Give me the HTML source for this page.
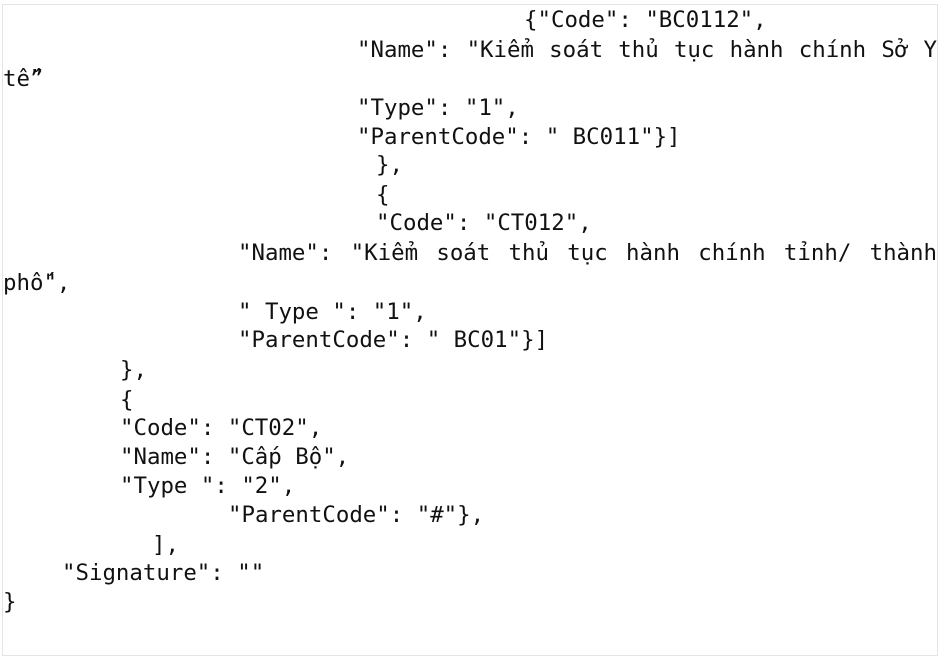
<!DOCTYPE html>
<html><head><meta charset="utf-8"><style>
html,body{margin:0;padding:0;background:#fff;}
body{width:939px;height:663px;position:relative;overflow:hidden;}
.frame{position:absolute;left:2px;top:4px;width:934px;height:650px;border:1px solid #e4e4e4;}
.l{position:absolute;font-family:"DejaVu Sans Mono","Liberation Mono",monospace;font-size:22.4px;line-height:29px;height:29px;color:#111;white-space:pre;}
.j{white-space:normal;text-align:justify;text-align-last:justify;}
</style></head><body>
<div class="frame"></div>
<div class="l" style="left:524px;top:6px">{"Code": "BC0112",</div>
<div class="l j" style="left:357px;top:36px;width:580px">"Name": "Kiểm soát thủ tục hành chính Sở Y</div>
<div class="l" style="left:3px;top:65px">tế”</div>
<div class="l" style="left:357px;top:94px">"Type": "1",</div>
<div class="l" style="left:357px;top:123px">"ParentCode": " BC011"}]</div>
<div class="l" style="left:376px;top:151px">},</div>
<div class="l" style="left:376px;top:181px">{</div>
<div class="l" style="left:376px;top:209px">"Code": "CT012",</div>
<div class="l j" style="left:238px;top:239px;width:699px">"Name": "Kiểm soát thủ tục hành chính tỉnh/ thành</div>
<div class="l" style="left:3px;top:269px">phố",</div>
<div class="l" style="left:238px;top:298px">" Type ": "1",</div>
<div class="l" style="left:238px;top:326px">"ParentCode": " BC01"}]</div>
<div class="l" style="left:120px;top:356px">},</div>
<div class="l" style="left:120px;top:386px">{</div>
<div class="l" style="left:120px;top:414px">"Code": "CT02",</div>
<div class="l" style="left:120px;top:443px">"Name": "Cấp Bộ",</div>
<div class="l" style="left:120px;top:472px">"Type ": "2",</div>
<div class="l" style="left:228px;top:501px">"ParentCode": "#"},</div>
<div class="l" style="left:152px;top:531px">],</div>
<div class="l" style="left:62px;top:559px">"Signature": ""</div>
<div class="l" style="left:3px;top:588px">}</div>
</body></html>
